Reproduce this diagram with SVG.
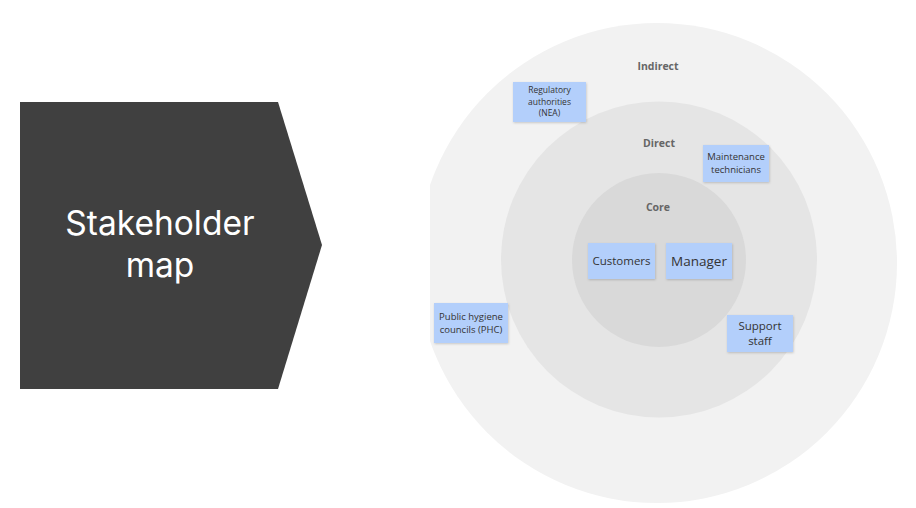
<svg xmlns="http://www.w3.org/2000/svg" width="916" height="508" viewBox="0 0 916 508">
<defs>
<clipPath id="clipR"><rect x="430" y="0" width="486" height="508"/></clipPath>
<filter id="sh" x="-10%" y="-10%" width="130%" height="140%"><feDropShadow dx="0.6" dy="1" stdDeviation="0.8" flood-color="#000" flood-opacity="0.18"/></filter>
</defs>
<style>
.note{fill:#b3cffb;filter:url(#sh)}
.nt{font-family:"Open Sans","Noto Sans",sans-serif;fill:#333;text-anchor:middle}
.ring{font-family:"Open Sans","Noto Sans",sans-serif;fill:#666;font-weight:bold;font-size:10.5px;text-anchor:middle}
</style>
<rect width="916" height="508" fill="#fff"/>
<g id="title">
<polygon points="20,102 278,102 322,245 278,389 20,389" fill="#404040"/>
<text x="160" y="235" font-family="Inter,'Noto Sans',sans-serif" font-size="33.5" fill="#fff" text-anchor="middle">Stakeholder</text>
<text x="160" y="277" font-family="Inter,'Noto Sans',sans-serif" font-size="33.5" fill="#fff" text-anchor="middle">map</text>
</g>
<g id="rings" clip-path="url(#clipR)">
<circle cx="657" cy="263" r="240" fill="#f2f2f2"/>
<circle cx="659" cy="259.5" r="158" fill="#e5e5e5"/>
<circle cx="659" cy="260" r="87" fill="#d9d9d9"/>
</g>
<g id="labels">
<text class="ring" x="658" y="70">Indirect</text>
<text class="ring" x="659" y="147">Direct</text>
<text class="ring" x="658" y="211">Core</text>
</g>
<g id="n-regulatory">
<rect class="note" x="513" y="82" width="73" height="40"/>
<text class="nt" font-size="8.5" x="549.5" y="93">Regulatory</text>
<text class="nt" font-size="8.5" x="549.5" y="104.5">authorities</text>
<text class="nt" font-size="8.5" x="549.5" y="116">(NEA)</text>
</g>
<g id="n-maintenance">
<rect class="note" x="703" y="145" width="66" height="37"/>
<text class="nt" font-size="9.5" x="736" y="160">Maintenance</text>
<text class="nt" font-size="9.5" x="736" y="172.5">technicians</text>
</g>
<g id="n-customers">
<rect class="note" x="588" y="243" width="67" height="36"/>
<text class="nt" font-size="11.5" x="621.5" y="265">Customers</text>
</g>
<g id="n-manager">
<rect class="note" x="666" y="243" width="66" height="36"/>
<text class="nt" font-size="13.5" x="699" y="266">Manager</text>
</g>
<g id="n-phc">
<rect class="note" x="434" y="303" width="74" height="40"/>
<text class="nt" font-size="9.5" x="471" y="320">Public hygiene</text>
<text class="nt" font-size="9.5" x="471" y="332.5">councils (PHC)</text>
</g>
<g id="n-support">
<rect class="note" x="727" y="315" width="66" height="37"/>
<text class="nt" font-size="11.5" x="760" y="330">Support</text>
<text class="nt" font-size="11.5" x="760" y="345">staff</text>
</g>
<g id="connectors"/>
</svg>
